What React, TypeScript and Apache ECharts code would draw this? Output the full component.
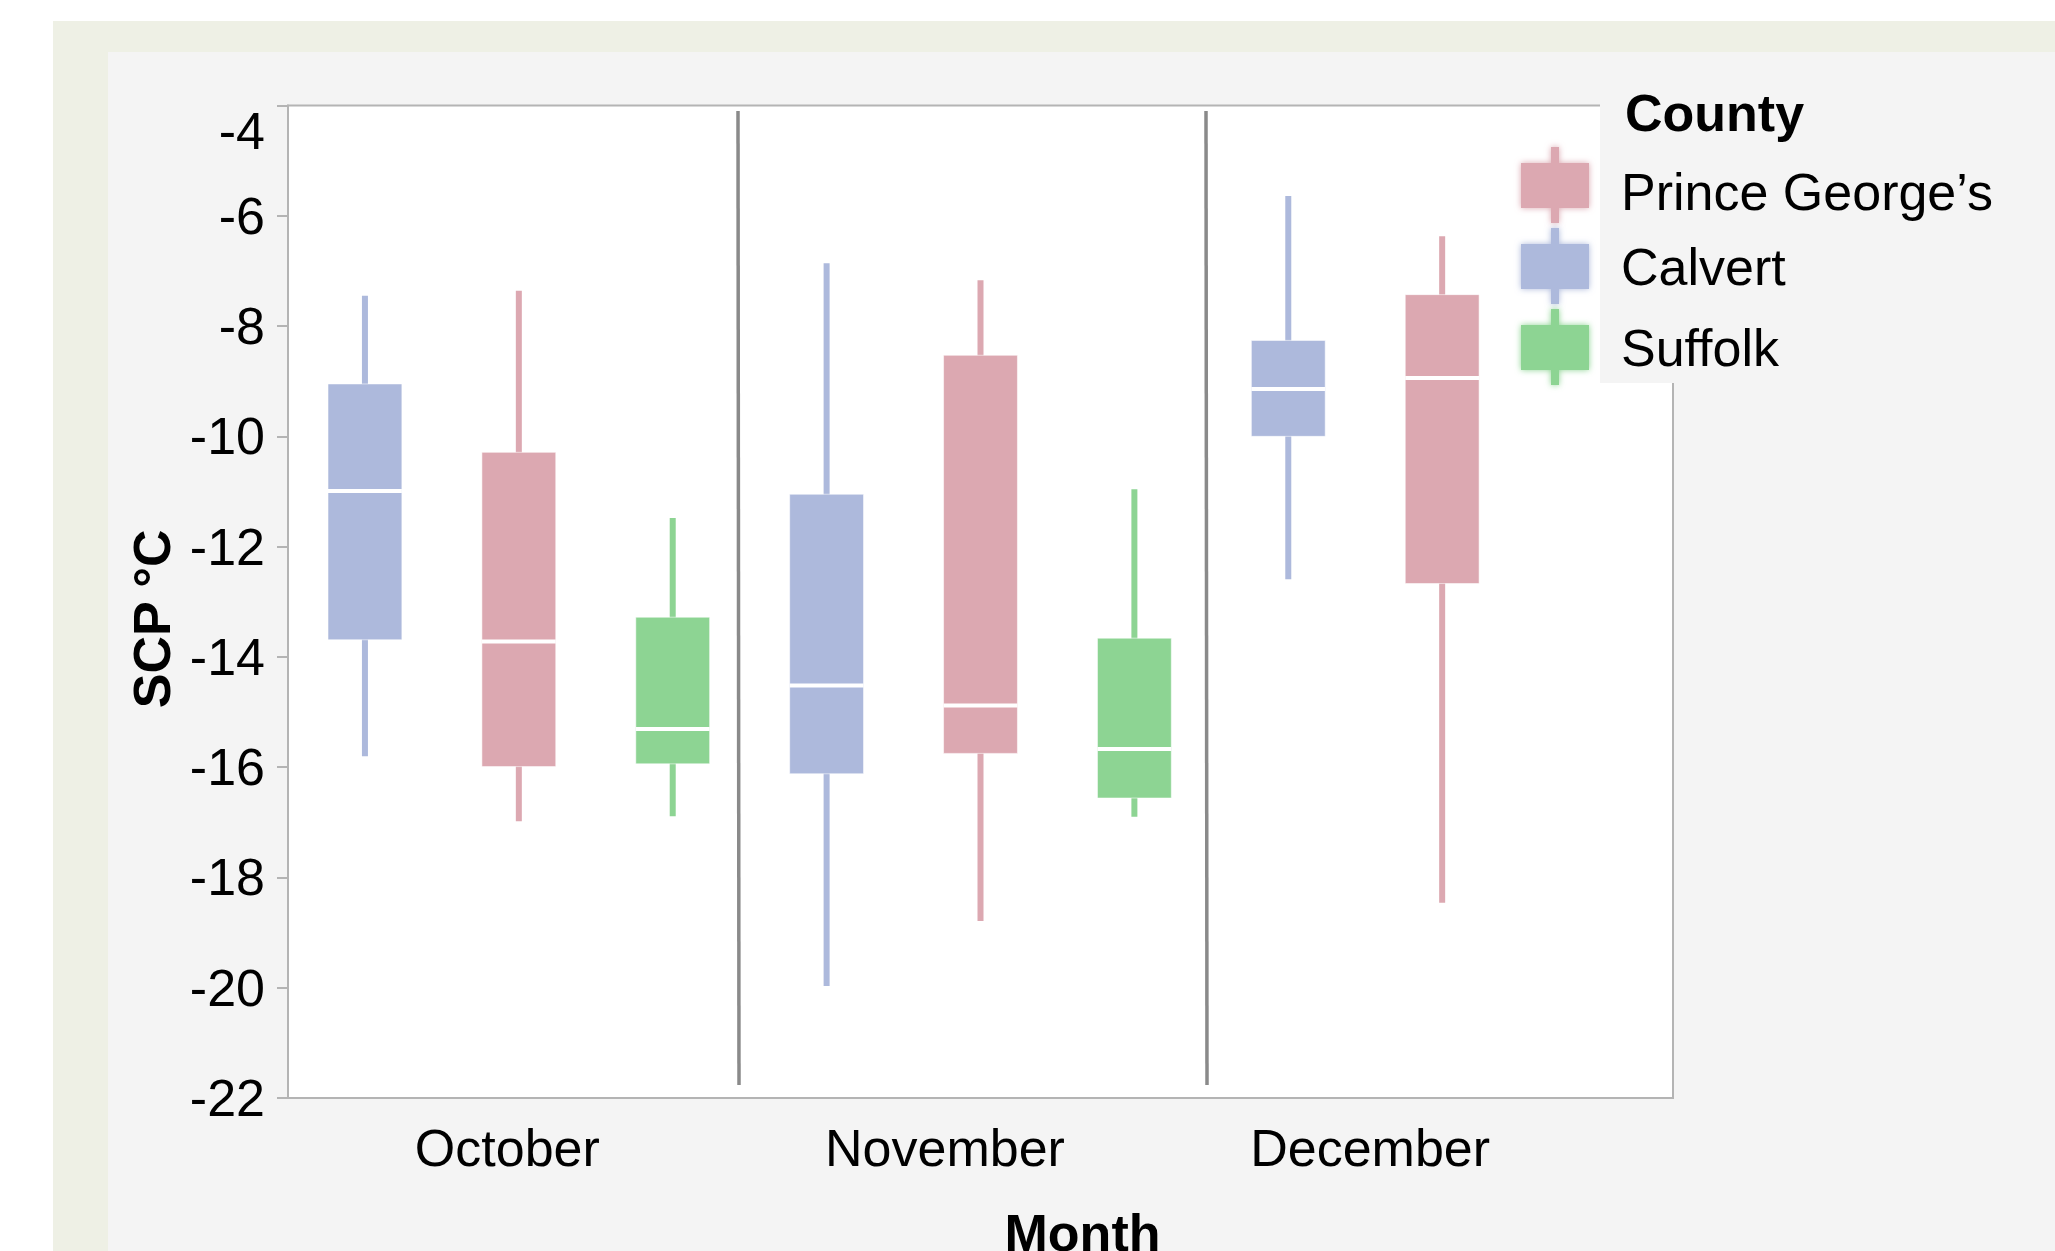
import React, { useEffect, useRef } from "react";
import * as echarts from "echarts";

// Supercooling point (°C) by month and county: [min, Q1, median, Q3, max]
const months = ["October", "November", "December"];

const princeGeorges = [
  [-16.98, -15.99, -13.72, -10.29, -7.36],
  [-18.79, -15.75, -14.88, -8.53, -7.17],
  [-18.46, -12.67, -8.94, -7.43, -6.37],
];

const calvert = [
  [-15.8, -13.69, -10.99, -9.05, -7.45],
  [-19.97, -16.12, -14.52, -11.05, -6.86],
  [-12.59, -10.0, -9.14, -8.26, -5.64],
];

const suffolk = [
  [-16.89, -15.94, -15.31, -13.28, -11.48],
  [-16.9, -16.56, -15.67, -13.66, -10.96],
];

const FONT = '"Liberation Sans", Arial, Helvetica, sans-serif';
const COLOR_PG = "#DCA8B1";
const COLOR_CALVERT = "#ADB9DC";
const COLOR_SUFFOLK = "#8DD493";

// Box-and-whisker legend glyph
const BOX_ICON = "path://M30,0H38V16H68V61H38V76H30V61H0V16H30Z";

const BOX_FRACTION = 0.16;
const WHISKER_WIDTH = 6;
const MEDIAN_WIDTH = 4;

// Month labels sit a little left of their band centres
const monthLabelStyles: Record<string, any> = {
  m0: { fontFamily: FONT, fontSize: 52, color: "#000", padding: [0, 23, 0, 0] },
  m1: { fontFamily: FONT, fontSize: 52, color: "#000", padding: [0, 71, 0, 0] },
  m2: { fontFamily: FONT, fontSize: 52, color: "#000", padding: [0, 144, 0, 0] },
};

function boxRenderer(offset: number) {
  return (params: any, api: any) => {
    const xi = api.value(0);
    const band = api.size([1, 0])[0];
    const cx = api.coord([xi, 0])[0] + offset * band;
    const yMin = api.coord([xi, api.value(1)])[1];
    const yQ1 = api.coord([xi, api.value(2)])[1];
    const yMed = api.coord([xi, api.value(3)])[1];
    const yQ3 = api.coord([xi, api.value(4)])[1];
    const yMax = api.coord([xi, api.value(5)])[1];
    const bw = band * BOX_FRACTION;
    const color = api.visual("color");
    return {
      type: "group",
      children: [
        {
          type: "rect",
          shape: { x: cx - WHISKER_WIDTH / 2, y: yMax, width: WHISKER_WIDTH, height: yMin - yMax },
          style: { fill: color },
        },
        {
          type: "rect",
          shape: { x: cx - bw / 2, y: yQ3, width: bw, height: yQ1 - yQ3 },
          style: { fill: color, stroke: "rgba(255,255,255,0.55)", lineWidth: 1 },
        },
        {
          type: "rect",
          shape: { x: cx - bw / 2, y: yMed - MEDIAN_WIDTH / 2, width: bw, height: MEDIAN_WIDTH },
          style: { fill: "#FFFFFF" },
        },
      ],
    };
  };
}

function toSeriesData(rows: number[][]) {
  return rows.map((r, i) => [i, ...r]);
}

export default function App() {
  const ref = useRef<HTMLDivElement>(null);

  useEffect(() => {
    if (!ref.current) return;
    const chart = echarts.init(ref.current, undefined, { renderer: "svg" });

    const seriesBase = {
      type: "custom",
      encode: { x: 0, y: [1, 2, 3, 4, 5] },
      z: 2,
    };

    const legendText = { fontFamily: FONT, fontSize: 52, color: "#000" };

    chart.setOption({
      animation: false,
      backgroundColor: "#FFFFFF",
      textStyle: { fontFamily: FONT },
      title: {
        text: "County",
        left: 1620,
        top: 82,
        textStyle: { fontFamily: FONT, fontSize: 52, fontWeight: "bold", color: "#000" },
      },
      legend: {
        orient: "vertical",
        left: 1516,
        top: 142,
        itemWidth: 78,
        itemHeight: 76,
        itemGap: 5,
        selectedMode: false,
        data: [
          { name: "Prince George’s", icon: BOX_ICON, itemStyle: { shadowBlur: 6, shadowColor: COLOR_PG } },
          { name: "Calvert", icon: BOX_ICON, itemStyle: { shadowBlur: 6, shadowColor: COLOR_CALVERT } },
          { name: "Suffolk", icon: BOX_ICON, itemStyle: { shadowBlur: 6, shadowColor: COLOR_SUFFOLK } },
        ],
        formatter: (name: string) =>
          name === "Prince George’s" ? `{first|${name}}` : `{rest|${name}}`,
        textStyle: {
          ...legendText,
          rich: {
            first: { ...legendText, padding: [14, 0, 0, 22] },
            rest: { ...legendText, padding: [2, 0, 0, 22] },
          },
        },
      },
      grid: {
        left: 288,
        top: 105.5,
        right: 382,
        bottom: 153,
        outerBoundsMode: "none",
        show: true,
        backgroundColor: "#FFFFFF",
        borderColor: "#B4B4B4",
        borderWidth: 2,
      },
      xAxis: {
        type: "category",
        data: months,
        name: "Month",
        nameLocation: "middle",
        nameGap: 109,
        nameTextStyle: {
          fontFamily: FONT,
          fontSize: 52,
          fontWeight: "bold",
          color: "#000",
          padding: [0, 0, 0, 204],
        },
        axisLine: { lineStyle: { color: "#B4B4B4", width: 2 } },
        axisTick: { show: false },
        axisLabel: {
          interval: 0,
          hideOverlap: false,
          fontFamily: FONT,
          fontSize: 52,
          color: "#000",
          margin: 24,
          formatter: (v: string, i: number) => `{m${i}|${v}}`,
          rich: monthLabelStyles,
        },
        splitLine: { show: false },
      },
      yAxis: {
        type: "value",
        min: -22,
        max: -4,
        interval: 2,
        name: "SCP °C",
        nameLocation: "middle",
        nameGap: 110,
        nameTextStyle: {
          fontFamily: FONT,
          fontSize: 52,
          fontWeight: "bold",
          color: "#000",
          padding: [0, 34, 0, 0],
        },
        axisLine: { show: true, lineStyle: { color: "#B4B4B4", width: 2 } },
        axisTick: { show: true, length: 11, lineStyle: { color: "#B4B4B4", width: 2 } },
        splitLine: { show: false },
        axisLabel: {
          fontFamily: FONT,
          fontSize: 52,
          color: "#000",
          margin: 23,
          formatter: (v: number) => (v === -4 ? "{top|-4}" : String(v)),
          rich: {
            top: { fontFamily: FONT, fontSize: 52, color: "#000", padding: [50, 0, 0, 0] },
          },
        },
      },
      graphic: [
        {
          type: "rect",
          z: -10,
          shape: { x: 53, y: 21, width: 2002, height: 1230 },
          style: { fill: "#EEF0E5" },
        },
        {
          type: "rect",
          z: -9,
          shape: { x: 108, y: 52, width: 1947, height: 1199 },
          style: { fill: "#F4F4F4" },
        },
        {
          type: "line",
          z: 1,
          shape: { x1: 738, y1: 111, x2: 739, y2: 1085 },
          style: { stroke: "#8A8A8A", lineWidth: 3.5 },
        },
        {
          type: "line",
          z: 1,
          shape: { x1: 1206, y1: 111, x2: 1207, y2: 1085 },
          style: { stroke: "#8A8A8A", lineWidth: 3.5 },
        },
        {
          type: "rect",
          z: 3,
          shape: { x: 1600, y: 90, width: 90, height: 293 },
          style: { fill: "#F4F4F4" },
        },
      ],
      series: [
        {
          ...seriesBase,
          name: "Prince George’s",
          itemStyle: { color: COLOR_PG },
          renderItem: boxRenderer(0),
          data: toSeriesData(princeGeorges),
        },
        {
          ...seriesBase,
          name: "Calvert",
          itemStyle: { color: COLOR_CALVERT },
          renderItem: boxRenderer(-1 / 3),
          data: toSeriesData(calvert),
        },
        {
          ...seriesBase,
          name: "Suffolk",
          itemStyle: { color: COLOR_SUFFOLK },
          renderItem: boxRenderer(1 / 3),
          data: toSeriesData(suffolk),
        },
      ],
    });

    return () => chart.dispose();
  }, []);

  return (
    <div
      ref={ref}
      style={{ position: "fixed", left: 0, top: 0, width: 2055, height: 1251 }}
    />
  );
}
